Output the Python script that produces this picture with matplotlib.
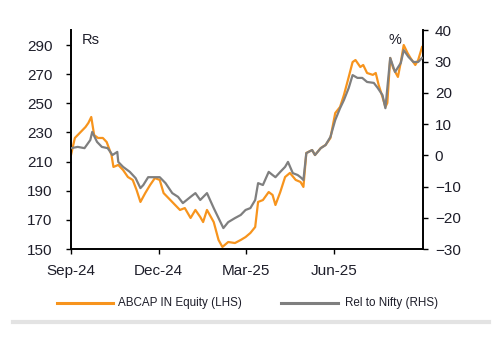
import matplotlib
matplotlib.use("Agg")
import matplotlib.pyplot as plt
import pandas as pd

plt.rcParams['font.family'] = ['Liberation Sans', 'DejaVu Sans']

# ABCAP IN Equity (LHS, Rs)
abcap_dates = [
    "2024-09-01", "2024-09-05", "2024-09-10", "2024-09-16", "2024-09-19", "2024-09-22",
    "2024-09-25", "2024-09-29", "2024-10-04", "2024-10-08", "2024-10-13", "2024-10-15",
    "2024-10-20", "2024-10-25", "2024-10-30", "2024-11-04", "2024-11-08", "2024-11-12",
    "2024-11-17", "2024-11-22", "2024-11-27", "2024-12-02", "2024-12-06", "2024-12-11",
    "2024-12-18", "2024-12-23", "2024-12-28", "2025-01-03", "2025-01-08", "2025-01-13",
    "2025-01-16", "2025-01-20", "2025-01-27", "2025-02-01", "2025-02-05", "2025-02-11",
    "2025-02-18", "2025-02-24", "2025-03-01", "2025-03-06", "2025-03-11", "2025-03-14",
    "2025-03-19", "2025-03-25", "2025-03-29", "2025-04-01", "2025-04-06", "2025-04-11",
    "2025-04-16", "2025-04-22", "2025-04-27", "2025-04-30", "2025-05-03", "2025-05-09",
    "2025-05-12", "2025-05-18", "2025-05-23", "2025-05-28", "2025-06-02", "2025-06-07",
    "2025-06-11", "2025-06-16", "2025-06-20", "2025-06-23", "2025-06-28", "2025-07-01",
    "2025-07-05", "2025-07-11", "2025-07-14", "2025-07-17", "2025-07-21", "2025-07-24",
    "2025-07-26", "2025-07-29", "2025-08-01", "2025-08-06", "2025-08-09", "2025-08-12",
    "2025-08-16", "2025-08-19", "2025-08-24", "2025-08-27", "2025-08-31"]
abcap_values = [
    214.5, 226.2, 229.6, 233.7, 236.5, 240.6,
    228.2, 226.2, 226.2, 223.4, 214.5, 206.3,
    207.7, 204.2, 199.4, 197.4, 190.5, 182.3,
    188.4, 193.9, 198.7, 197.4, 188.4, 185.0,
    180.2, 176.8, 178.1, 171.3, 176.8, 172.0,
    168.5, 176.8, 168.5, 156.2, 151.4, 154.8,
    154.1, 156.2, 158.2, 161.0, 165.1, 182.3,
    183.6, 189.1, 187.1, 180.2, 189.1, 199.4,
    202.2, 197.4, 196.0, 192.6, 215.9, 217.9,
    214.5, 219.3, 221.4, 226.2, 243.3, 247.5,
    255.7, 268.1, 278.3, 279.7, 274.9, 276.3,
    270.8, 269.5, 270.8, 262.6, 254.3, 247.5,
    250.2, 281.1, 274.2, 268.1, 278.3, 290.0,
    284.5, 281.1, 276.3, 279.7, 288.6]

# Rel to Nifty (RHS, %)
rel_dates = [
    "2024-09-01", "2024-09-08", "2024-09-15", "2024-09-21", "2024-09-23", "2024-09-28",
    "2024-10-03", "2024-10-09", "2024-10-14", "2024-10-19", "2024-10-20", "2024-10-25",
    "2024-11-01", "2024-11-07", "2024-11-12", "2024-11-15", "2024-11-20", "2024-11-27",
    "2024-12-02", "2024-12-08", "2024-12-15", "2024-12-21", "2024-12-26", "2025-01-03",
    "2025-01-08", "2025-01-13", "2025-01-20", "2025-01-27", "2025-02-01", "2025-02-06",
    "2025-02-11", "2025-02-18", "2025-02-24", "2025-03-01", "2025-03-06", "2025-03-11",
    "2025-03-14", "2025-03-19", "2025-03-25", "2025-03-29", "2025-04-01", "2025-04-06",
    "2025-04-11", "2025-04-14", "2025-04-19", "2025-04-24", "2025-04-27", "2025-04-30",
    "2025-05-03", "2025-05-09", "2025-05-12", "2025-05-18", "2025-05-23", "2025-05-28",
    "2025-06-02", "2025-06-07", "2025-06-11", "2025-06-16", "2025-06-20", "2025-06-25",
    "2025-06-30", "2025-07-05", "2025-07-12", "2025-07-16", "2025-07-21", "2025-07-24",
    "2025-07-29", "2025-08-03", "2025-08-09", "2025-08-12", "2025-08-17", "2025-08-22",
    "2025-08-27", "2025-08-31"]
rel_values = [
    2.3, 2.7, 2.3, 4.9, 7.5, 4.3,
    2.7, 2.3, 0.1, 1.1, -2.1, -3.7,
    -5.3, -7.3, -10.5, -9.5, -7.0, -7.0,
    -7.0, -8.9, -12.1, -13.3, -15.3, -13.3,
    -12.1, -14.3, -12.1, -16.9, -20.1, -23.3,
    -21.4, -20.1, -19.1, -17.5, -16.9, -14.3,
    -8.9, -9.5, -5.3, -6.3, -7.0, -5.3,
    -3.7, -2.1, -5.7, -6.3, -7.0, -7.9,
    0.7, 1.7, 0.1, 2.3, 3.3, 5.9,
    11.3, 15.1, 17.7, 21.6, 25.7, 24.8,
    24.8, 23.5, 23.2, 21.6, 19.3, 15.1,
    31.2, 26.7, 29.6, 33.7, 31.5, 29.9,
    29.9, 31.2]

x_ticks = ["2024-09-01", "2024-12-01", "2025-03-01", "2025-06-01"]
x_tick_labels = ["Sep-24", "Dec-24", "Mar-25", "Jun-25"]
left_ticks = [150, 170, 190, 210, 230, 250, 270, 290]
right_ticks = [-30, -20, -10, 0, 10, 20, 30, 40]

ORANGE = "#F7941D"
GREY = "#7F7F7F"
TXT = "#1E1E2A"

fig = plt.figure(figsize=(5.0, 3.54), dpi=100)
ax = fig.add_axes([0.142, 0.2966, 0.704, 0.6174])
ax2 = ax.twinx()

ax.plot(pd.to_datetime(abcap_dates), abcap_values, color=ORANGE, lw=1.6, zorder=2)
ax2.plot(pd.to_datetime(rel_dates), rel_values, color=GREY, lw=1.6, zorder=3)

ax.set_xlim(pd.Timestamp("2024-09-01"), pd.Timestamp("2025-09-01"))
ax.set_ylim(150, 300)
ax2.set_ylim(-30, 40)
ax.set_yticks(left_ticks)
ax2.set_yticks(right_ticks)
ax.set_xticks(pd.to_datetime(x_ticks))
ax.set_xticklabels(x_tick_labels)

for a in (ax, ax2):
    a.spines['top'].set_visible(False)
    for s in ('left', 'right', 'bottom'):
        a.spines[s].set_linewidth(1.4)
        a.spines[s].set_color('black')
ax.spines['right'].set_visible(False)
ax2.spines['left'].set_visible(False)
ax2.spines['bottom'].set_visible(False)

ax.tick_params(axis='y', direction='out', length=3.5, width=1, pad=10, labelsize=11, labelcolor=TXT)
ax.tick_params(axis='x', direction='out', length=3.5, width=1, pad=7, labelsize=11, labelcolor=TXT)
ax2.tick_params(axis='y', direction='out', length=3.5, width=1, pad=5, labelsize=11, labelcolor=TXT)

ax.text(0.03, 0.99, "Rs", transform=ax.transAxes, ha='left', va='top', fontsize=10.5, color=TXT)
ax.text(0.92, 0.99, "%", transform=ax.transAxes, ha='center', va='top', fontsize=10.5, color=TXT)

# legend
ly = 1 - 303 / 354
fig.lines.append(plt.Line2D([57/500, 113/500], [ly, ly], color=ORANGE, lw=2.2, transform=fig.transFigure))
fig.text(118/500, ly, "ABCAP IN Equity (LHS)", fontsize=8.4, color=TXT, va='center', ha='left')
fig.lines.append(plt.Line2D([281/500, 338/500], [ly, ly], color=GREY, lw=2.2, transform=fig.transFigure))
fig.text(345/500, ly, "Rel to Nifty (RHS)", fontsize=8.4, color=TXT, va='center', ha='left')

# separator bar
sy = 1 - 322 / 354
fig.lines.append(plt.Line2D([13/500, 489/500], [sy, sy], color="#E3E3E3", lw=3, transform=fig.transFigure))

fig.savefig("out.png", dpi=100)
